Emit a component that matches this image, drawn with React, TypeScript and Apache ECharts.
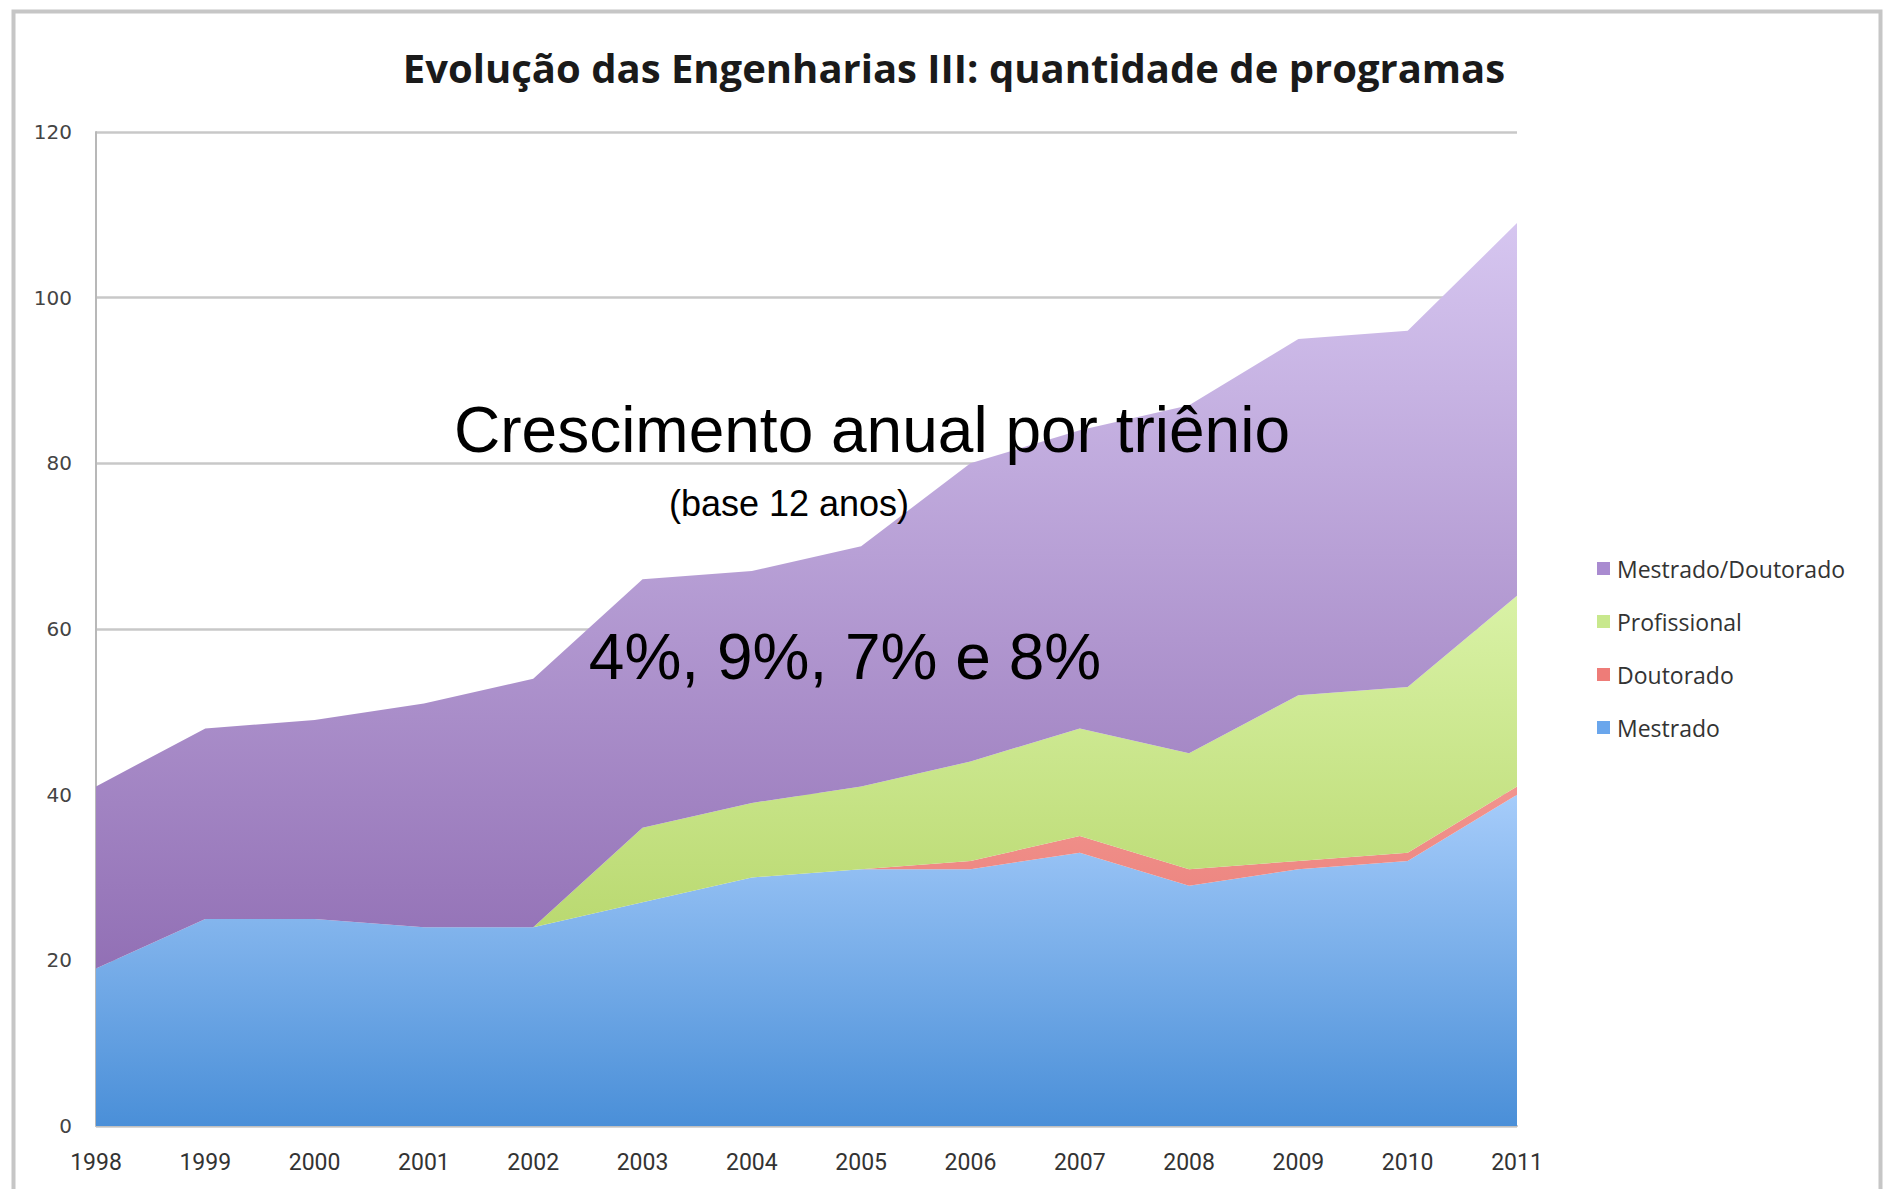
import React, { useEffect, useRef } from "react";
import * as echarts from "echarts";

const years = ["1998", "1999", "2000", "2001", "2002", "2003", "2004", "2005", "2006", "2007", "2008", "2009", "2010", "2011"];
const mestrado = [19, 25, 25, 24, 24, 27, 30, 31, 31, 33, 29, 31, 32, 40];
const doutorado = [0, 0, 0, 0, 0, 0, 0, 0, 1, 2, 2, 1, 1, 1];
const profissional = [0, 0, 0, 0, 0, 9, 9, 10, 12, 13, 14, 20, 20, 23];
const mestradoDoutorado = [22, 23, 24, 27, 30, 30, 28, 29, 36, 36, 42, 43, 43, 45];
const legendOrder = ["Mestrado/Doutorado", "Profissional", "Doutorado", "Mestrado"];
const titleText = "Evolução das Engenharias III: quantidade de programas";
const note1 = "Crescimento anual por triênio";
const note2 = "(base 12 anos)";
const note3 = "4%, 9%, 7% e 8%";

const grad = (top: string, bottom: string) =>
  new echarts.graphic.LinearGradient(0, 0, 0, 1, [
    { offset: 0, color: top },
    { offset: 1, color: bottom },
  ]);

export default function App() {
  const ref = useRef<HTMLDivElement>(null);
  useEffect(() => {
    document.body.style.margin = "0";
    const chart = echarts.init(ref.current!, undefined, { renderer: "svg" });
    const mk = (name: string, data: number[], legendColor: string, top: string, bottom: string) => ({
      name,
      type: "line",
      stack: "total",
      data,
      symbol: "none",
      lineStyle: { width: 0 },
      itemStyle: { color: legendColor },
      areaStyle: { color: grad(top, bottom), opacity: 1 },
    });
    chart.setOption({
      animation: false,
      backgroundColor: "#ffffff",
      title: {
        text: titleText,
        left: 949,
        top: 42,
        textAlign: "center",
        textStyle: { fontFamily: "Open Sans", fontWeight: "bold", fontSize: 40, color: "#1a1a1a" },
      },
      legend: {
        data: legendOrder,
        orient: "vertical",
        left: 1592,
        top: 552,
        itemWidth: 13,
        itemHeight: 13,
        itemGap: 30,
        icon: "rect",
        textStyle: { fontFamily: "Open Sans", fontSize: 23, color: "#333", padding: [0, 0, 0, 2] },
      },
      grid: { left: 96, right: 371, top: 132, bottom: 63 },
      xAxis: {
        type: "category",
        data: years,
        boundaryGap: false,
        axisLine: { show: true, lineStyle: { color: "#c0c0c0", width: 2 } },
        axisTick: { show: false },
        axisLabel: { margin: 25, fontFamily: "Roboto", fontSize: 23, color: "#333" },
      },
      yAxis: {
        type: "value",
        min: 0,
        max: 120,
        interval: 20,
        axisLine: { show: true, lineStyle: { color: "#b8b8b8", width: 2 } },
        axisTick: { show: false },
        axisLabel: { margin: 24, fontFamily: "DejaVu Sans", fontSize: 20, color: "#444" },
        splitLine: { show: true, lineStyle: { color: "#c8c8c8", width: 2.5 } },
      },
      graphic: [
        {
          type: "rect",
          left: 11,
          top: 9,
          shape: { x: 0, y: 0, width: 1867, height: 1200 },
          style: { fill: "none", stroke: "#c6c6c6", lineWidth: 4 },
          silent: true,
          z: 0,
        },
        {
          type: "text",
          x: 872,
          y: 430,
          z: 100,
          style: { text: note1, fontFamily: "Liberation Sans", fontSize: 64, fill: "#000", align: "center", verticalAlign: "middle" },
        },
        {
          type: "text",
          x: 789,
          y: 503,
          z: 100,
          style: { text: note2, fontFamily: "Liberation Sans", fontSize: 36, fill: "#000", align: "center", verticalAlign: "middle" },
        },
        {
          type: "text",
          x: 845,
          y: 657,
          z: 100,
          style: { text: note3, fontFamily: "Liberation Sans", fontSize: 64, fill: "#000", align: "center", verticalAlign: "middle" },
        },
      ],
      series: [
        mk("Mestrado", mestrado, "#6aa6ec", "#a6ccfa", "#4a8fd8"),
        mk("Doutorado", doutorado, "#ee7c78", "#f2948e", "#e97d78"),
        mk("Profissional", profissional, "#c8e88d", "#d9f2a6", "#b6d66a"),
        mk("Mestrado/Doutorado", mestradoDoutorado, "#a98bd0", "#d6c6f0", "#9270b5"),
      ],
    });
    return () => chart.dispose();
  }, []);
  return <div ref={ref} style={{ width: 1888, height: 1189 }} />;
}
